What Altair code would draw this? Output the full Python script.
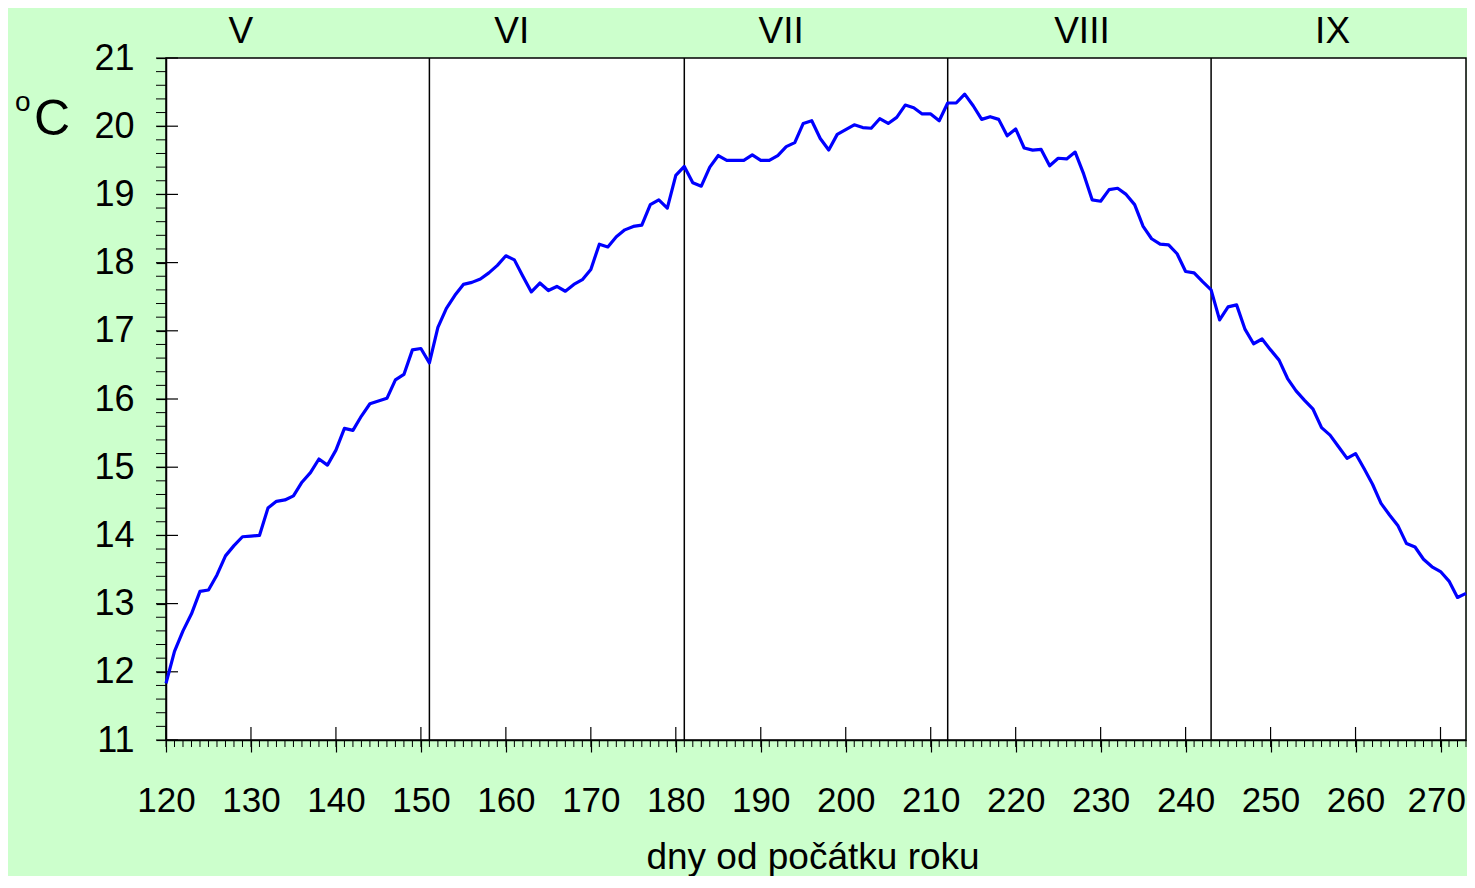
import altair as alt
import pandas as pd

# ---- data ----
days = list(range(120, 274))
temps = [
    11.83, 12.3, 12.6, 12.85, 13.18, 13.2, 13.42, 13.7, 13.85, 13.98,
    13.99, 14.0, 14.4, 14.5, 14.52, 14.58, 14.78, 14.92, 15.12, 15.03,
    15.25, 15.57, 15.54, 15.75, 15.93, 15.97, 16.01, 16.28, 16.36, 16.72,
    16.74, 16.53, 17.05, 17.33, 17.52, 17.68, 17.71, 17.76, 17.85, 17.96,
    18.1, 18.04, 17.8, 17.57, 17.7, 17.59, 17.65, 17.58, 17.68, 17.75,
    17.9, 18.27, 18.23, 18.38, 18.48, 18.53, 18.55, 18.85, 18.92, 18.8,
    19.28, 19.41, 19.17, 19.12, 19.4, 19.57, 19.5, 19.5, 19.5, 19.58,
    19.5, 19.5, 19.57, 19.7, 19.76, 20.04, 20.08, 19.82, 19.65, 19.88,
    19.95, 20.02, 19.98, 19.97, 20.11, 20.04, 20.13, 20.31, 20.27, 20.18,
    20.18, 20.08, 20.34, 20.34, 20.47, 20.3, 20.1, 20.14, 20.1, 19.86,
    19.96, 19.68, 19.65, 19.66, 19.42, 19.53, 19.52, 19.62, 19.3, 18.92,
    18.9, 19.07, 19.09, 19.0, 18.85, 18.53, 18.35, 18.27, 18.26, 18.13,
    17.87, 17.85, 17.72, 17.6, 17.16, 17.35, 17.38, 17.02, 16.81, 16.88,
    16.72, 16.57, 16.3, 16.12, 15.98, 15.85, 15.58, 15.47, 15.3, 15.13,
    15.2, 14.98, 14.75, 14.47, 14.3, 14.14, 13.88, 13.83, 13.65, 13.54,
    13.47, 13.33, 13.09, 13.15,
]
month_starts = [151, 181, 212, 243]
month_names = ["V", "VI", "VII", "VIII", "IX"]
month_label_days = [128.8, 160.7, 192.4, 227.8, 257.3]
x_major = list(range(120, 271, 10))
x_minor = list(range(120, 274))
y_major = list(range(11, 22))
y_minor = [round(11 + 0.2 * i, 1) for i in range(51)]
x_title = "dny od počátku roku"

FONT = "Liberation Sans"
W, H = 1300, 682
LAST = x_major[-1]

xs = alt.Scale(domain=[120, 273], nice=False, zero=False)
ys = alt.Scale(domain=[11, 21], nice=False, zero=False)

df = pd.DataFrame({"day": days, "t": temps})

line = alt.Chart(df).mark_line(color="#0000FF", strokeWidth=3.2, strokeJoin="round").encode(
    x=alt.X("day:Q", scale=xs, axis=alt.Axis(
        values=x_major, tickSize=12, tickColor="black", tickWidth=1.2,
        labelFontSize=35, labelFont=FONT, labelColor="black", labelPadding=31,
        labelAlign={"condition": {"test": f"datum.value == {LAST}", "value": "right"}, "value": "center"},
        labelOffset={"condition": {"test": f"datum.value == {LAST}", "value": 25}, "value": 0},
        domainColor="black", domainWidth=1.5, grid=False, title=None,
        labelFlush=False, labelOverlap=False, labelBound=False)),
    y=alt.Y("t:Q", scale=ys, axis=alt.Axis(
        values=y_major, tickSize=10, tickColor="black", tickWidth=1.2,
        labelFontSize=36, labelFont=FONT, labelColor="black", labelPadding=22,
        domainColor="black", domainWidth=1.5, grid=False, title=None,
        format="d", labelOverlap=False)),
)

months = alt.Chart(pd.DataFrame({"day": month_starts})).mark_rule(
    color="black", strokeWidth=1.5).encode(
    x=alt.X("day:Q", scale=xs), y=alt.value(0), y2=alt.value(H))

xmaj_in = alt.Chart(pd.DataFrame({"day": x_major})).mark_rule(
    color="black", strokeWidth=1.2).encode(
    x=alt.X("day:Q", scale=xs), y=alt.value(H - 13), y2=alt.value(H))
xmin = alt.Chart(pd.DataFrame({"day": x_minor})).mark_rule(
    color="black", strokeWidth=1).encode(
    x=alt.X("day:Q", scale=xs), y=alt.value(H), y2=alt.value(H + 7))
ymaj_in = alt.Chart(pd.DataFrame({"v": y_major})).mark_rule(
    color="black", strokeWidth=1.2).encode(
    y=alt.Y("v:Q", scale=ys), x=alt.value(0), x2=alt.value(12))
ymin = alt.Chart(pd.DataFrame({"v": y_minor})).mark_rule(
    color="black", strokeWidth=1).encode(
    y=alt.Y("v:Q", scale=ys), x=alt.value(-10), x2=alt.value(0))

mlabels = alt.Chart(pd.DataFrame({"day": month_label_days, "name": month_names})).mark_text(
    font=FONT, fontSize=37, color="black", baseline="middle", align="center").encode(
    x=alt.X("day:Q", scale=xs), y=alt.value(-26), text="name:N")

one = pd.DataFrame({"a": [0]})
deg_o = alt.Chart(one).mark_text(font=FONT, fontSize=28, color="black",
                                 align="left", baseline="alphabetic", text="o").encode(
    x=alt.value(-151), y=alt.value(53))
deg_c = alt.Chart(one).mark_text(font=FONT, fontSize=50, color="black",
                                 align="left", baseline="alphabetic", text="C").encode(
    x=alt.value(-132), y=alt.value(77))
xt = alt.Chart(one).mark_text(font=FONT, fontSize=37, color="black",
                              align="center", baseline="alphabetic", text=x_title).encode(
    x=alt.value(647), y=alt.value(811))

chart = alt.layer(months, xmaj_in, xmin, ymaj_in, ymin, line, mlabels, deg_o, deg_c, xt).properties(
    width=W, height=H,
    autosize=alt.AutoSizeParams(type="none"),
    padding={"left": 158, "top": 50, "right": 1, "bottom": 136},
    background="#CCFFCC",
).configure_view(fill="white", stroke="black", strokeWidth=1.5)

chart.save("out.html", embed_options={"renderer": "svg", "actions": False})
